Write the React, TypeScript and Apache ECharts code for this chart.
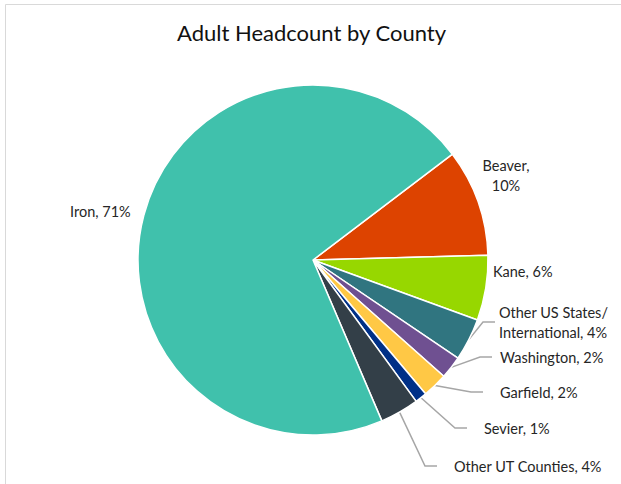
import React, { useEffect, useRef } from "react";
import * as echarts from "echarts";

const categories = [
  "Beaver",
  "Kane",
  "Other US States/\nInternational",
  "Washington",
  "Garfield",
  "Sevier",
  "Other UT Counties",
  "Iron",
];
const values = [9.9, 6.0, 3.9, 2.1, 2.3, 1.1, 3.6, 71.1];
const colors = ["#DD4300", "#97D700", "#307580", "#6F5091", "#FFC845", "#003087", "#333F48", "#40C1AC"];

// label placement (layout only): x = left of label box, pad = gap between leader line and text
const labelLayoutCfg = [
  { x: 506, y: 175, align: "center", line: false, pad: 0 },
  { x: 493, y: 271, align: "left", line: false, pad: 0 },
  { x: 495, y: 322, align: "left", line: true, pad: 4 },
  { x: 492, y: 357, align: "left", line: true, pad: 8 },
  { x: 483, y: 392, align: "left", line: true, pad: 17 },
  { x: 467, y: 428, align: "left", line: true, pad: 17 },
  { x: 437, y: 466, align: "left", line: true, pad: 17 },
  { x: 70, y: 211, align: "left", line: false, pad: 0 },
];

const FONT = "Lato, 'Open Sans', sans-serif";

export default function App() {
  const ref = useRef<HTMLDivElement>(null);
  useEffect(() => {
    if (!ref.current) return;
    const chart = echarts.init(ref.current, null, { renderer: "svg" });
    const total = values.reduce((a, b) => a + b, 0);
    chart.setOption({
      animation: false,
      backgroundColor: "#fff",
      title: {
        text: "Adult Headcount by County",
        left: 172,
        top: 16,
        textStyle: { fontFamily: FONT, fontSize: 22, fontWeight: "normal", color: "#111" },
      },
      graphic: [
        {
          type: "rect",
          shape: { x: 5.5, y: 4.5, width: 700, height: 600 },
          style: { fill: "none", stroke: "#D9D9D9", lineWidth: 1 },
          silent: true,
          z: -1,
        },
      ],
      series: [
        {
          type: "pie",
          center: [313, 260],
          radius: [0, 175],
          startAngle: 90 - 52.8,
          clockwise: true,
          avoidLabelOverlap: false,
          itemStyle: { borderColor: "#fff", borderWidth: 1.5 },
          label: {
            show: true,
            position: "outside",
            fontFamily: FONT,
            fontSize: 14.5,
            color: "#262626",
            lineHeight: 20,
            formatter: (p: any) => {
              const pct = Math.round((p.value / total) * 100);
              const name: string = p.name;
              if (name === "Beaver") return `${name},\n${pct}%`;
              return `${name}, ${pct}%`;
            },
          },
          labelLine: {
            show: true,
            length: 10,
            length2: 12,
            smooth: false,
            lineStyle: { color: "#A6A6A6", width: 1.5 },
          },
          labelLayout: (params: any) => {
            const c = labelLayoutCfg[params.dataIndex];
            return {
              x: c.x,
              y: c.y,
              align: c.align,
              verticalAlign: "middle",
            };
          },
          data: categories.map((name, i) => ({
            name,
            value: values[i],
            itemStyle: { color: colors[i] },
            label: { padding: [0, 0, 0, labelLayoutCfg[i].pad], align: i === 2 ? "center" : undefined },
            labelLine: { show: labelLayoutCfg[i].line },
          })),
        },
      ],
    });
    return () => chart.dispose();
  }, []);
  return (
    <div
      ref={ref}
      style={{ position: "absolute", left: 0, top: 0, width: 621, height: 484 }}
    />
  );
}
